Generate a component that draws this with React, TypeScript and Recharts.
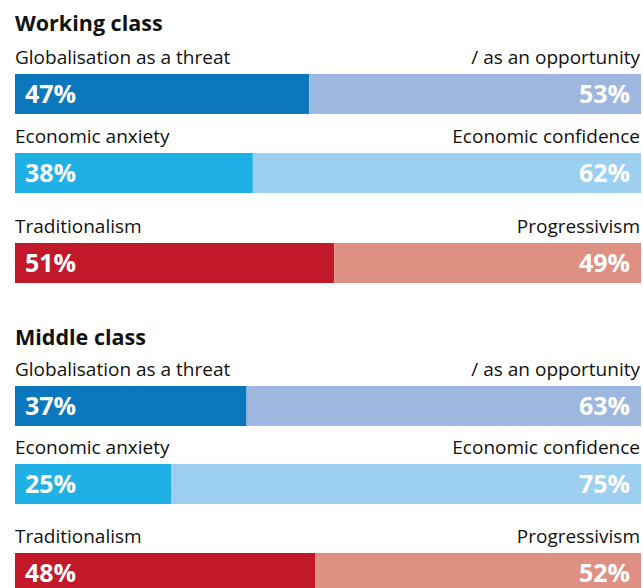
import React from "react";
import { BarChart, Bar, XAxis, YAxis, LabelList } from "recharts";

const groupTitles = ["Working class", "Middle class"];
const leftLabels = ["Globalisation as a threat", "Economic anxiety", "Traditionalism"];
const rightLabels = ["/ as an opportunity", "Economic confidence", "Progressivism"];
const workingLeft = [47, 38, 51];
const workingRight = [53, 62, 49];
const middleLeft = [37, 25, 48];
const middleRight = [63, 75, 52];

const leftColors = ["#0b77bd", "#1fb0e6", "#c1182a"];
const rightColors = ["#9db7df", "#9ccff0", "#de9083"];

const FONT = "'Open Sans', sans-serif";
const BAR_X = 15;
const BAR_W = 626;
const BAR_H = 40;
const titleBaselines = [31, 345];
const rowTops = [
  [74, 153, 243],
  [386, 464, 553],
];

const groupValues = [
  { left: workingLeft, right: workingRight },
  { left: middleLeft, right: middleRight },
];

const LeftValueLabel = (props: any) => {
  const { x, y, height, value } = props;
  return (
    <text x={x + 10} y={y + height / 2 + 9} fill="#fff" fontFamily={FONT} fontWeight={700} fontSize={25}>
      {value}%
    </text>
  );
};

const RightValueLabel = (props: any) => {
  const { x, y, width, height, value } = props;
  return (
    <text x={x + width - 11} y={y + height / 2 + 9} fill="#fff" textAnchor="end" fontFamily={FONT} fontWeight={700} fontSize={25}>
      {value}%
    </text>
  );
};

function Row({ left, right, idx }: { left: number; right: number; idx: number }) {
  const data = [{ name: "row", left, right }];
  return (
    <BarChart
      width={BAR_W}
      height={BAR_H}
      data={data}
      layout="vertical"
      margin={{ top: 0, right: 0, bottom: 0, left: 0 }}
      barCategoryGap={0}
    >
      <XAxis type="number" domain={[0, 100]} hide />
      <YAxis type="category" dataKey="name" hide />
      <Bar dataKey="left" stackId="a" fill={leftColors[idx]} isAnimationActive={false}>
        <LabelList dataKey="left" content={LeftValueLabel} />
      </Bar>
      <Bar dataKey="right" stackId="a" fill={rightColors[idx]} isAnimationActive={false}>
        <LabelList dataKey="right" content={RightValueLabel} />
      </Bar>
    </BarChart>
  );
}

export default function App() {
  return (
    <div style={{ position: "absolute", left: 0, top: 0, width: 643, height: 588, overflow: "hidden", background: "#fff" }}>
      <svg width={643} height={588} style={{ position: "absolute", left: 0, top: 0 }}>
        {groupTitles.map((t, g) => (
          <g key={t}>
            <text x={BAR_X} y={titleBaselines[g]} fontFamily={FONT} fontWeight={700} fontSize={21.5} fill="#111">
              {t}
            </text>
            {leftLabels.map((l, i) => (
              <g key={l}>
                <text x={BAR_X} y={rowTops[g][i] - 10} fontFamily={FONT} fontSize={19} fill="#111">
                  {l}
                </text>
                <text x={BAR_X + BAR_W - 1} y={rowTops[g][i] - 10} textAnchor="end" fontFamily={FONT} fontSize={19} fill="#111">
                  {rightLabels[i]}
                </text>
              </g>
            ))}
          </g>
        ))}
      </svg>
      {groupValues.map((gv, g) =>
        gv.left.map((v, i) => (
          <div key={`${g}-${i}`} style={{ position: "absolute", left: BAR_X, top: rowTops[g][i] }}>
            <Row left={v} right={gv.right[i]} idx={i} />
          </div>
        ))
      )}
    </div>
  );
}
